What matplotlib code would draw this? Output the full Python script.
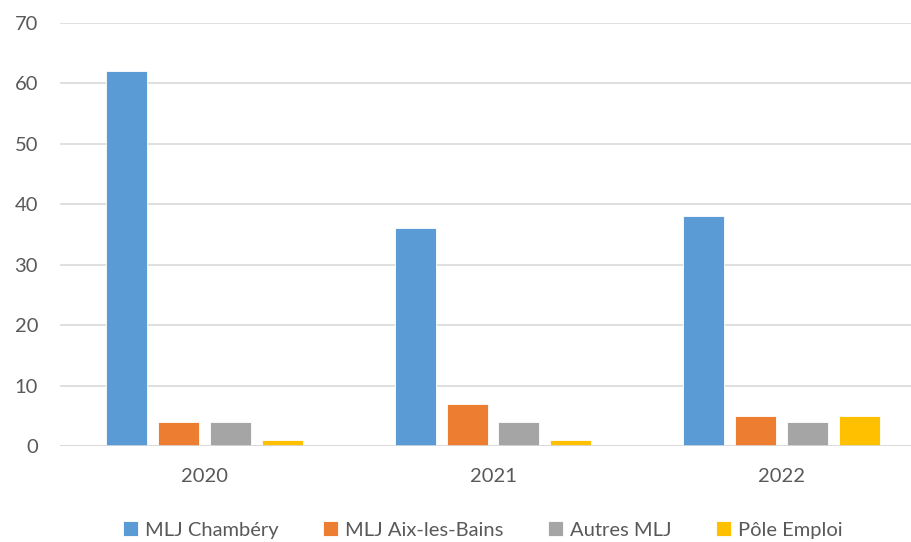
import matplotlib
matplotlib.use("Agg")
import matplotlib.pyplot as plt
import numpy as np

years = ["2020", "2021", "2022"]
series_names = ["MLJ Chambéry", "MLJ Aix-les-Bains", "Autres MLJ", "Pôle Emploi"]
chambery = [62, 36, 38]
aix = [4, 7, 5]
autres = [4, 4, 4]
pole = [1, 1, 5]
colors = ["#5B9BD5", "#ED7D31", "#A5A5A5", "#FFC000"]

plt.rcParams['font.family'] = ['Lato', 'DejaVu Sans']

fig = plt.figure(figsize=(9.12, 5.42), dpi=100)
ax = fig.add_axes([60.25/912, 1-446/542, 865.5/912, (446-23)/542])

x = np.arange(len(years))
width = 0.142
step = 0.180
data = [chambery, aix, autres, pole]
for i, (vals, name, c) in enumerate(zip(data, series_names, colors)):
    ax.bar(x + (i - 1.5) * step, vals, width, color=c, label=name,
           edgecolor="white", linewidth=0.6, zorder=3)

ax.set_xlim(-0.5, 2.5)
ax.set_ylim(0, 70)
ax.set_yticks(range(0, 71, 10))
ax.set_xticks(x)
ax.set_xticklabels(years)
ax.grid(axis='y', color='#D9D9D9', linewidth=1.2, zorder=0)
for s in ax.spines.values():
    s.set_visible(False)
ax.axhline(0, color='#D9D9D9', linewidth=1.2, zorder=4)
ax.tick_params(axis='both', length=0, labelsize=14.5, colors='#595959')
ax.tick_params(axis='y', pad=16)
ax.tick_params(axis='x', pad=16)

leg = fig.legend(loc='center', bbox_to_anchor=(483/912, 1-530/542), ncol=4,
                 frameon=False, fontsize=14.5, handlelength=0.75, handleheight=0.75,
                 handletextpad=0.35, columnspacing=2.2, labelcolor='#595959')

fig.savefig("out.png", dpi=100)
